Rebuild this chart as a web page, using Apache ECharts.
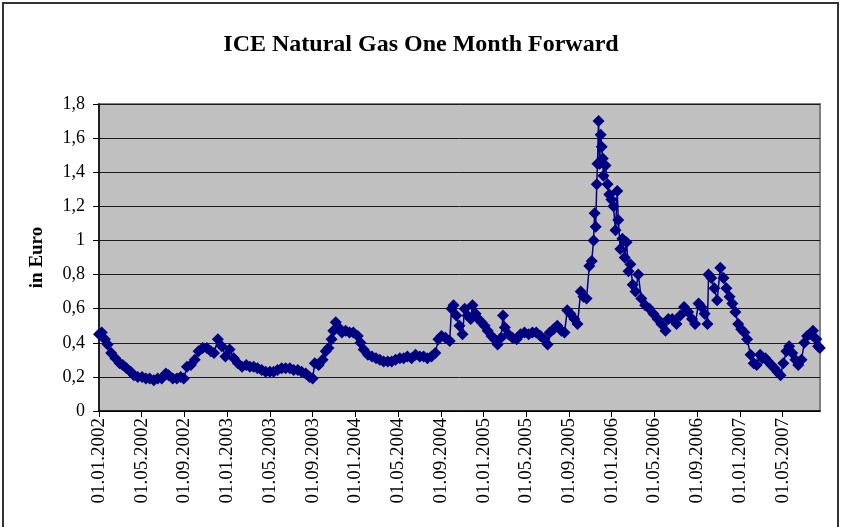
<!DOCTYPE html>
<html>
<head>
<meta charset="utf-8">
<script src="https://cdn.jsdelivr.net/npm/echarts@6/dist/echarts.min.js"></script>
<style>
  html, body { margin: 0; padding: 0; background: #fff; }
  #chart { width: 842px; height: 527px; }
</style>
</head>
<body>
<div id="chart"></div>
<script>
// quotes (EUR), dates approx.
const dates = [
  '2002-01-01','2002-01-09','2002-01-18','2002-01-26','2002-02-05','2002-02-16','2002-02-27','2002-03-08','2002-03-19','2002-03-31',
  '2002-04-09','2002-04-20','2002-05-02','2002-05-13','2002-05-24','2002-06-05','2002-06-16','2002-06-27','2002-07-09','2002-07-17',
  '2002-07-29','2002-08-10','2002-08-21','2002-08-30','2002-09-08','2002-09-19','2002-09-30','2002-10-11','2002-10-23','2002-11-04',
  '2002-11-15','2002-11-24','2002-12-05','2002-12-16','2002-12-27',
  '2003-01-08','2003-01-20','2003-02-01','2003-02-12','2003-02-23','2003-03-05','2003-03-16','2003-03-27','2003-04-08','2003-04-19',
  '2003-05-01','2003-05-12','2003-05-23','2003-06-04','2003-06-15','2003-06-27','2003-07-08','2003-07-20','2003-07-31','2003-08-12',
  '2003-08-23','2003-09-01','2003-09-07','2003-09-18','2003-09-29','2003-10-08','2003-10-16','2003-10-25','2003-10-30','2003-11-06',
  '2003-11-14','2003-11-23','2003-12-04','2003-12-15','2003-12-26',
  '2004-01-08','2004-01-16','2004-01-25','2004-02-06','2004-02-17','2004-02-28','2004-03-10','2004-03-21','2004-04-02','2004-04-13',
  '2004-04-24','2004-05-06','2004-05-17','2004-05-28','2004-06-09','2004-06-20','2004-07-02','2004-07-13','2004-07-24','2004-08-05',
  '2004-08-16','2004-08-25','2004-09-03','2004-09-14','2004-09-26','2004-10-01','2004-10-07','2004-10-15','2004-10-24','2004-11-02',
  '2004-11-08','2004-11-16','2004-11-25','2004-11-30','2004-12-09','2004-12-17','2004-12-26',
  '2005-01-04','2005-01-13','2005-01-24','2005-02-02','2005-02-10','2005-02-19','2005-02-24','2005-03-01','2005-03-11','2005-03-23',
  '2005-04-04','2005-04-15','2005-04-26','2005-05-08','2005-05-19','2005-05-30','2005-06-11','2005-06-22','2005-07-01','2005-07-07',
  '2005-07-18','2005-07-29','2005-08-10','2005-08-19','2005-08-27','2005-09-05','2005-09-16','2005-09-25','2005-10-04','2005-10-12',
  '2005-10-21','2005-10-29','2005-11-05','2005-11-10','2005-11-13','2005-11-16','2005-11-19','2005-11-21','2005-11-24','2005-11-27',
  '2005-11-30','2005-12-03','2005-12-06','2005-12-08','2005-12-14','2005-12-20','2005-12-25','2005-12-31',
  '2006-01-06','2006-01-12','2006-01-17','2006-01-20','2006-01-26','2006-02-01','2006-02-07','2006-02-12','2006-02-17','2006-02-22',
  '2006-02-28','2006-03-08','2006-03-16','2006-03-25','2006-04-05','2006-04-17','2006-04-28','2006-05-10','2006-05-21','2006-06-02',
  '2006-06-10','2006-06-21','2006-07-03','2006-07-14','2006-07-25','2006-08-06','2006-08-17','2006-08-26','2006-09-05','2006-09-13',
  '2006-09-22','2006-09-30','2006-10-03','2006-10-11','2006-10-20','2006-10-28','2006-11-06','2006-11-15','2006-11-23','2006-12-02',
  '2006-12-10','2006-12-19','2006-12-27',
  '2007-01-05','2007-01-14','2007-01-22','2007-02-01','2007-02-09','2007-02-17','2007-02-26','2007-03-04','2007-03-13','2007-03-21',
  '2007-03-30','2007-04-08','2007-04-16','2007-04-25','2007-05-03','2007-05-12','2007-05-20','2007-05-29','2007-06-07','2007-06-15',
  '2007-06-24','2007-07-02','2007-07-10','2007-07-19','2007-07-27','2007-08-06','2007-08-11','2007-08-16'
];
const prices = [
  0.45,0.46,0.42,0.39,0.34,0.31,0.28,0.27,0.25,0.23,
  0.21,0.20,0.20,0.19,0.19,0.18,0.19,0.19,0.22,0.21,
  0.19,0.19,0.20,0.19,0.26,0.27,0.30,0.35,0.37,0.37,
  0.35,0.34,0.42,0.38,0.32,
  0.36,0.31,0.28,0.26,0.27,0.26,0.26,0.25,0.24,0.23,
  0.23,0.23,0.24,0.25,0.25,0.25,0.24,0.24,0.23,0.22,
  0.20,0.19,0.28,0.27,0.30,0.35,0.37,0.42,0.47,0.52,
  0.49,0.46,0.47,0.46,0.46,
  0.44,0.40,0.36,0.33,0.32,0.31,0.30,0.29,0.29,0.29,
  0.30,0.31,0.31,0.32,0.31,0.33,0.32,0.32,0.31,0.32,
  0.34,0.42,0.44,0.43,0.41,0.60,0.62,0.56,0.50,0.45,
  0.60,0.56,0.54,0.62,0.57,0.54,0.52,
  0.50,0.47,0.44,0.42,0.39,0.43,0.56,0.49,0.45,0.43,
  0.42,0.45,0.46,0.45,0.46,0.46,0.44,0.42,0.39,0.46,
  0.48,0.50,0.47,0.46,0.59,0.57,0.54,0.51,0.70,0.67,
  0.66,0.85,0.88,1.00,1.16,1.08,1.33,1.45,1.70,1.45,
  1.62,1.55,1.48,1.38,1.44,1.33,1.27,1.24,
  1.20,1.06,1.29,1.12,0.95,1.01,0.90,0.99,0.82,0.86,
  0.74,0.70,0.80,0.66,0.62,0.60,0.57,0.54,0.51,0.47,
  0.54,0.54,0.51,0.56,0.61,0.58,0.54,0.51,0.63,0.61,
  0.57,0.51,0.80,0.78,0.72,0.65,0.84,0.78,0.72,0.67,
  0.63,0.58,0.51,
  0.48,0.46,0.42,0.33,0.28,0.27,0.33,0.31,0.31,0.29,
  0.27,0.25,0.23,0.21,0.28,0.35,0.38,0.34,0.30,0.27,
  0.30,0.40,0.44,0.45,0.47,0.42,0.38,0.37
];
// category labels every 4 months
const tickLabels = [
  '01.01.2002','01.05.2002','01.09.2002','01.01.2003','01.05.2003','01.09.2003',
  '01.01.2004','01.05.2004','01.09.2004','01.01.2005','01.05.2005','01.09.2005',
  '01.01.2006','01.05.2006','01.09.2006','01.01.2007','01.05.2007'
];
const yTicks = [0, 0.2, 0.4, 0.6, 0.8, 1, 1.2, 1.4, 1.6, 1.8];

// months since 01.01.2002 (fractional)
function monthIndex(s) {
  const p = s.split('-').map(Number);
  const dim = new Date(p[0], p[1], 0).getDate();
  return (p[0] - 2002) * 12 + (p[1] - 1) + (p[2] - 1) / dim;
}

const seriesData = dates.map((d, i) => [monthIndex(d), prices[i]]);

const chart = echarts.init(document.getElementById('chart'));
const serif = 'Liberation Serif';

chart.setOption({
  backgroundColor: '#fff',
  animation: false,
  title: {
    text: 'ICE Natural Gas One Month Forward',
    left: 'center',
    top: 28,
    textStyle: { fontFamily: serif, fontSize: 24, fontWeight: 'bold', color: '#000' }
  },
  graphic: [{
    type: 'rect',
    shape: { x: 3, y: 3, width: 835, height: 530 },
    style: { fill: null, stroke: '#333', lineWidth: 2 },
    silent: true
  }],
  grid: {
    left: 99, right: 22, top: 104, bottom: 116,
    show: true,
    backgroundColor: '#c0c0c0',
    borderColor: '#808080',
    borderWidth: 2
  },
  xAxis: {
    type: 'value',
    min: 0,
    max: 67.5,
    interval: 4,
    axisLine: { lineStyle: { color: '#000', width: 1.5 } },
    axisTick: { show: true, length: 6, lineStyle: { color: '#000' } },
    splitLine: { show: false },
    axisLabel: {
      rotate: 90,
      margin: 7,
      showMaxLabel: false,
      fontFamily: serif,
      fontSize: 19,
      color: '#000',
      formatter: v => {
        const k = Math.round(v / 4);
        return Math.abs(v - k * 4) < 1e-6 ? (tickLabels[k] || '') : '';
      }
    }
  },
  yAxis: {
    type: 'value',
    min: yTicks[0],
    max: yTicks[yTicks.length - 1],
    interval: 0.2,
    name: 'in Euro',
    nameLocation: 'middle',
    nameRotate: 90,
    nameGap: 52,
    nameTextStyle: { fontFamily: serif, fontSize: 19, fontWeight: 'bold', color: '#000' },
    axisLine: { show: true, lineStyle: { color: '#000', width: 1.5 } },
    axisTick: { show: true, length: 6, lineStyle: { color: '#000' } },
    splitLine: { show: true, lineStyle: { color: '#1a1a1a', width: 1 } },
    axisLabel: {
      margin: 14,
      fontFamily: serif,
      fontSize: 18,
      color: '#000',
      formatter: v => String(Math.round(v * 10) / 10).replace('.', ',')
    }
  },
  series: [{
    type: 'line',
    data: seriesData,
    symbol: 'diamond',
    symbolSize: 12,
    showAllSymbol: true,
    lineStyle: { color: '#000080', width: 1.5 },
    itemStyle: { color: '#000080' }
  }]
});
</script>
</body>
</html>
